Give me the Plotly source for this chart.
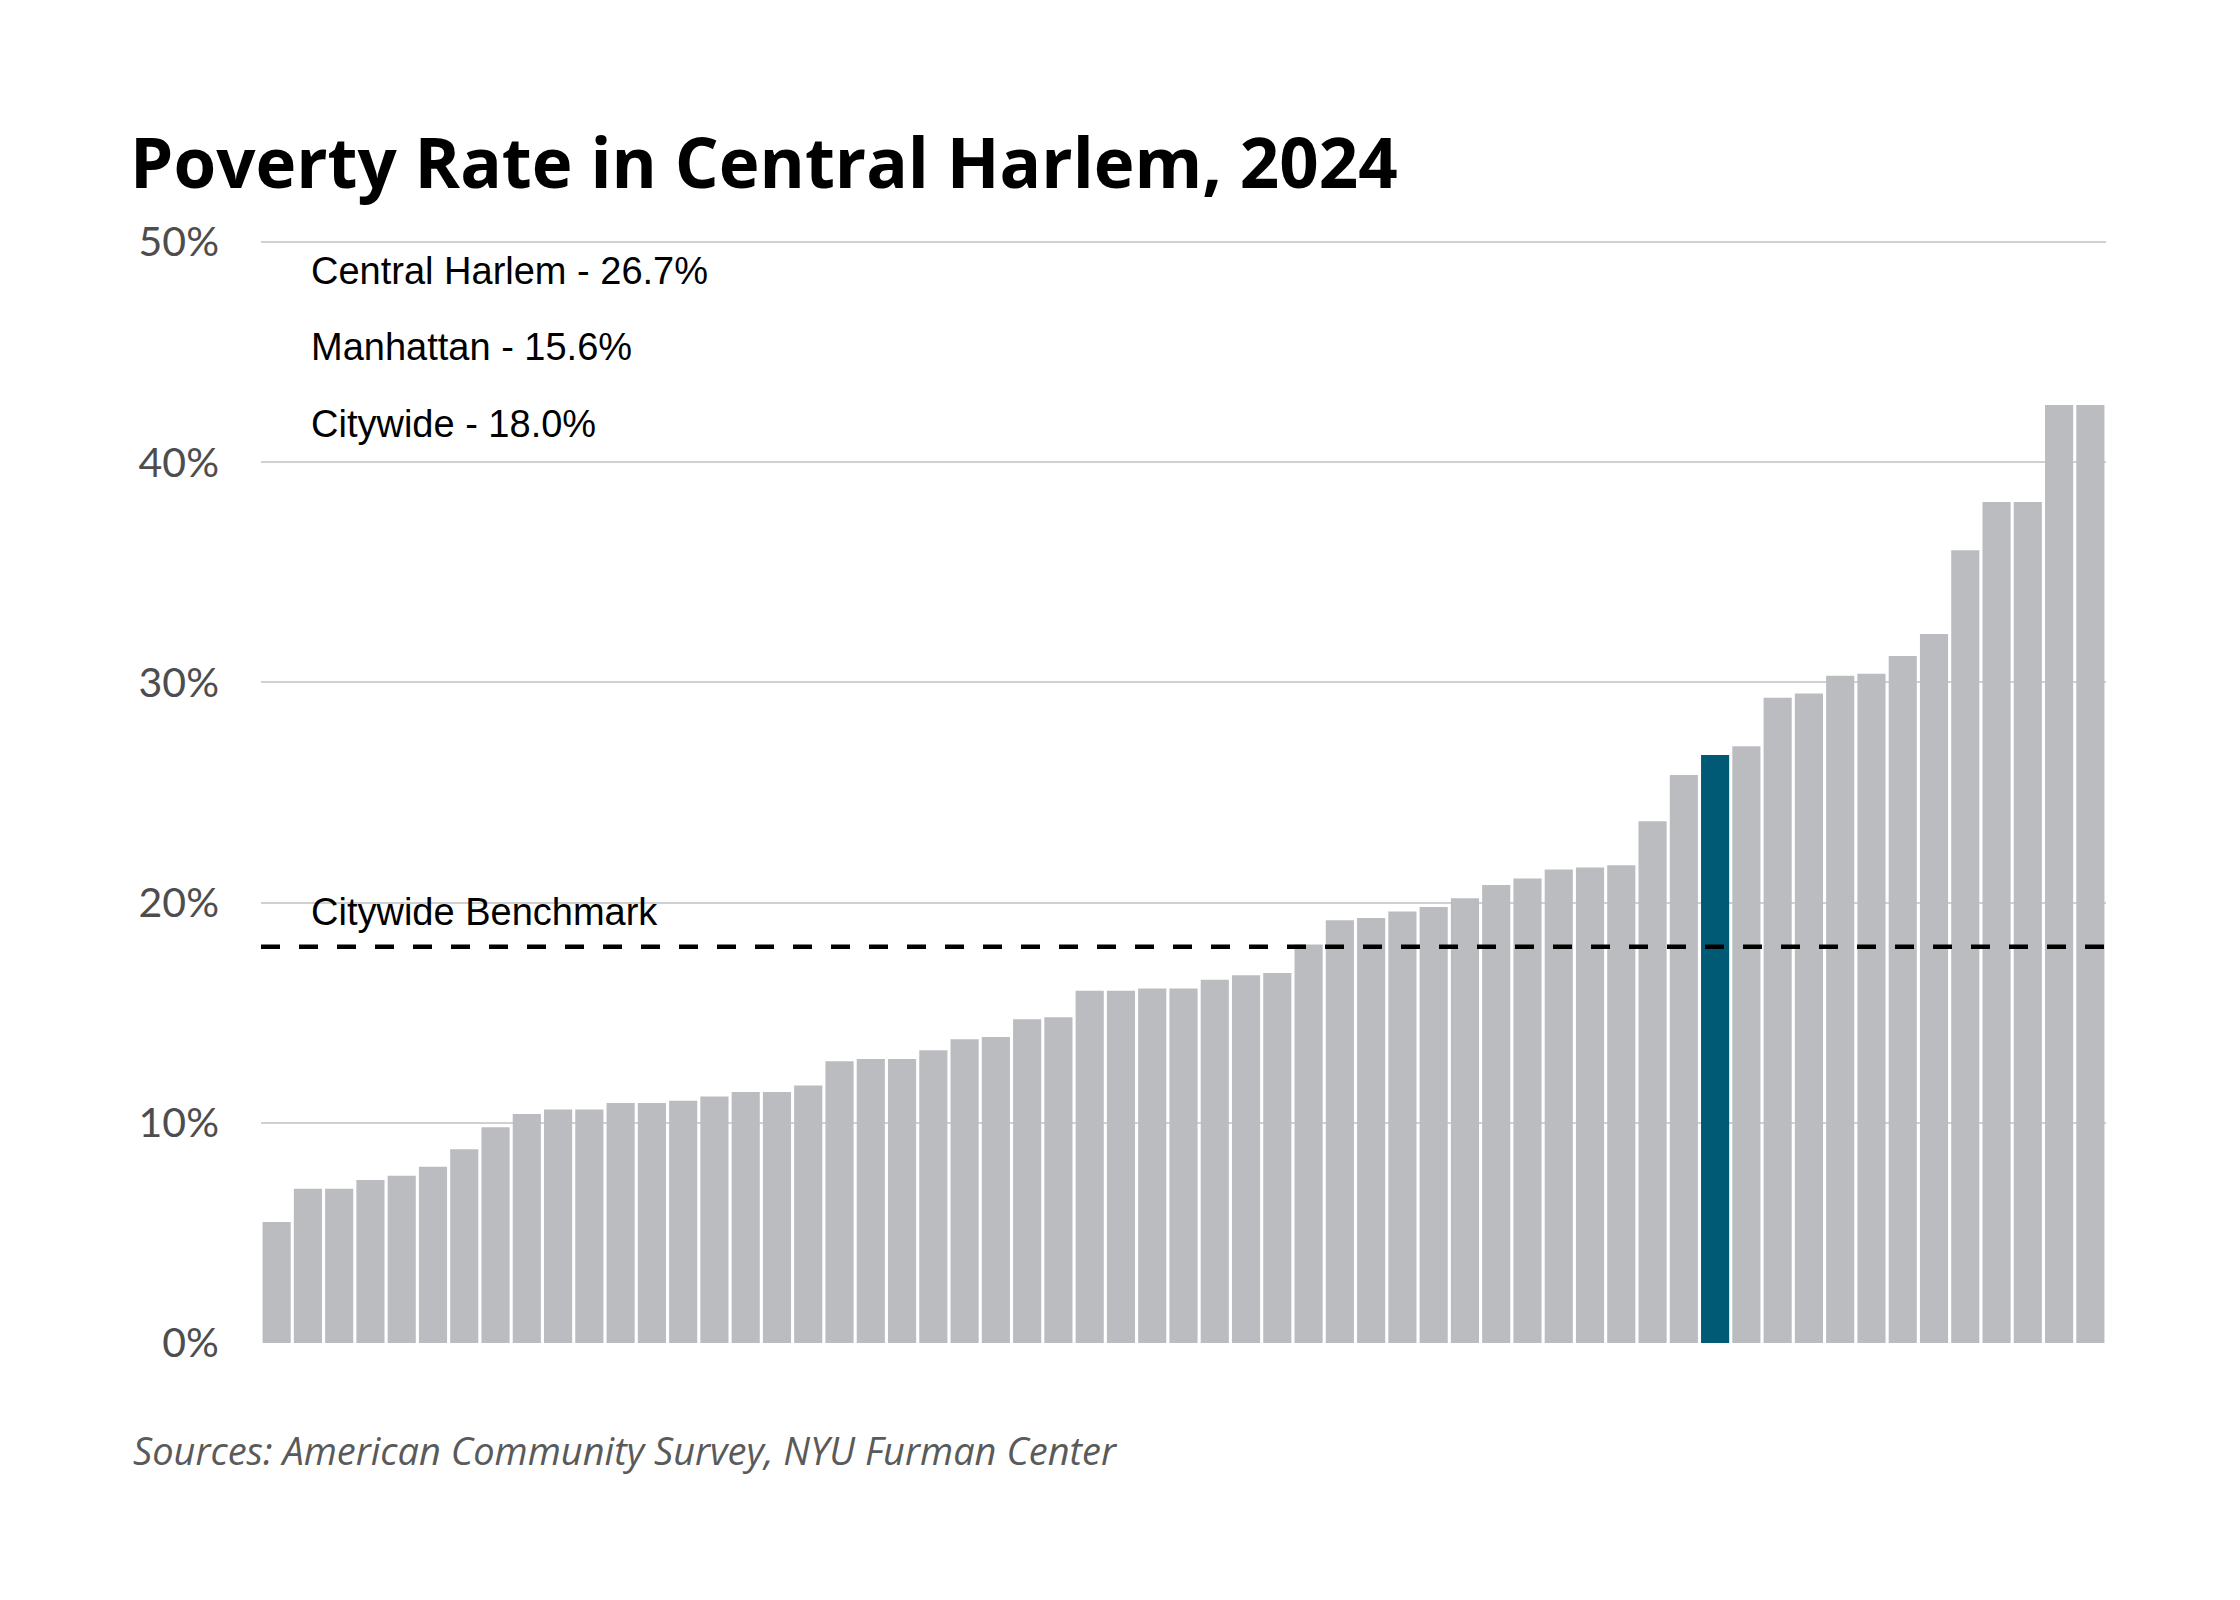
import plotly.graph_objects as go

# Poverty rate (%) for each community district, sorted low to high
rates = [5.5, 7.0, 7.0, 7.4, 7.6, 8.0, 8.8, 9.8, 10.4, 10.6,
         10.6, 10.9, 10.9, 11.0, 11.2, 11.4, 11.4, 11.7, 12.8, 12.9,
         12.9, 13.3, 13.8, 13.9, 14.7, 14.8, 16.0, 16.0, 16.1, 16.1,
         16.5, 16.7, 16.8, 18.1, 19.2, 19.3, 19.6, 19.8, 20.2, 20.8,
         21.1, 21.5, 21.6, 21.7, 23.7, 25.8, 26.7, 27.1, 29.3, 29.5,
         30.3, 30.4, 31.2, 32.2, 36.0, 38.2, 38.2, 42.6, 42.6]
highlight_index = 46  # Central Harlem
citywide = 18.0
summary_lines = ["Central Harlem - 26.7%", "Manhattan - 15.6%", "Citywide - 18.0%"]
y_ticks = [0, 10, 20, 30, 40, 50]
y_tick_text = ["0%", "10%", "20%", "30%", "40%", "50%"]

positions = list(range(len(rates)))
colors = ["#005a75" if i == highlight_index else "#bbbcc0" for i in positions]

fig = go.Figure()
fig.add_trace(go.Bar(x=positions, y=rates, marker=dict(color=colors, line=dict(width=0)),
                     hoverinfo="y"))

# citywide benchmark line
fig.add_shape(type="line", xref="paper", yref="y", x0=0, x1=1, y0=citywide, y1=citywide,
              line=dict(color="black", width=4.5, dash="19px,19px"))
fig.add_annotation(text="Citywide Benchmark", xref="paper", yref="y", x=0.0258, y=citywide,
                   xanchor="left", yanchor="bottom", yshift=12, showarrow=False,
                   font=dict(family="Liberation Sans", size=38, color="black"))

for line, ypos in zip(summary_lines, [0.9724, 0.9037, 0.8337]):
    fig.add_annotation(text=line, xref="paper", yref="paper", x=0.0258, y=ypos,
                       xanchor="left", yanchor="middle", showarrow=False,
                       font=dict(family="Liberation Sans", size=38, color="black"))

fig.add_annotation(text="<i>Sources: American Community Survey, NYU Furman Center</i>",
                   xref="paper", yref="paper", x=-0.0703, y=-0.0971,
                   xanchor="left", yanchor="middle", showarrow=False,
                   font=dict(family="Open Sans", size=38, color="#5a5a5a"))

fig.update_layout(
    width=2240, height=1600,
    margin=dict(l=253, r=142, t=233, b=265),
    paper_bgcolor="white", plot_bgcolor="white",
    bargap=0.1,
    showlegend=False,
    title=dict(text="<b>Poverty Rate in Central Harlem, 2024</b>",
               xref="container", yref="container", x=0.0545, y=0.9025,
               xanchor="left", yanchor="middle",
               font=dict(family="Open Sans", size=69, color="black")),
    xaxis=dict(range=[-0.5, len(rates) - 0.5], showticklabels=False, showgrid=False,
               zeroline=False, showline=False, fixedrange=True),
    yaxis=dict(range=[0, 50.05], tickvals=y_ticks, ticktext=y_tick_text,
               showgrid=True, gridcolor="#d0d0d0", gridwidth=2,
               zeroline=False, showline=False, ticklabelstandoff=41,
               tickfont=dict(family="Lato", size=41, color="#4d4d4d")),
)

fig.write_html("out.html")
